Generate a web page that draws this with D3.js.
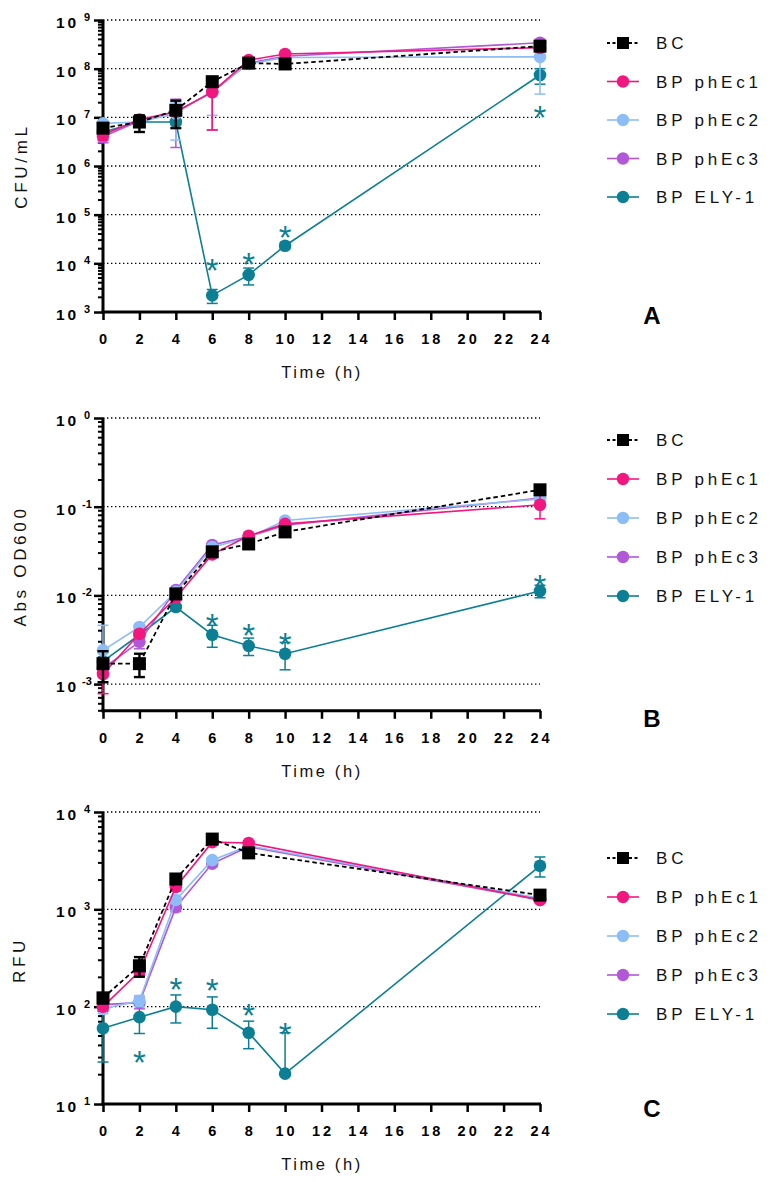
<!DOCTYPE html>
<html><head><meta charset="utf-8">
<script src="https://cdn.jsdelivr.net/npm/d3@7"></script>
<style>
body{margin:0;background:#fff}
svg{display:block}
text{font-family:Arial,"Liberation Sans",sans-serif}
</style>
</head><body>
<svg id="chart" width="773" height="1182"></svg>
<script>
// ---------- shared ----------
const times = [0, 2, 4, 6, 8, 10, 24];
const xTickValues = [0, 2, 4, 6, 8, 10, 12, 14, 16, 18, 20, 22, 24];
const seriesNames = ["BC", "BP phEc1", "BP phEc2", "BP phEc3", "BP ELY-1"];
const seriesColors = ["#000000", "#F2167F", "#8DBDF7", "#B257D8", "#0C7F95"];

// ---------- Panel A : CFU/mL ----------
const cfuBC     = [6.0e6, 8.0e6, 1.4e7, 5.4e7, 1.3e8, 1.25e8, 2.9e8];
const cfuPhEc1  = [4.4e6, 9.0e6, 1.3e7, 3.3e7, 1.5e8, 2.0e8, 2.7e8];
const cfuPhEc2  = [7.5e6, 8.0e6, 1.2e7, 3.5e7, 1.25e8, 1.7e8, 1.75e8];
const cfuPhEc3  = [4.0e6, 8.5e6, 1.3e7, 3.3e7, 1.3e8, 1.8e8, 3.4e8];
const cfuELY1   = [5.0e6, 8.0e6, 8.0e6, 2.2e3, 5.8e3, 2.3e4, 7.4e7];
const cfuBCsd    = [1.0e6, 3.0e6, 8.0e6, 5.0e6, 1.0e7, 1.0e7, 5.0e7];
const cfuPhEc1sd = [1.0e6, 1.0e6, 2.0e6, 2.75e7, 1.0e7, 1.0e7, 3.0e7];
const cfuPhEc2sd = [1.0e6, 1.0e6, 8.6e6, 2.4e7, 1.0e7, 1.0e7, 1.45e8];
const cfuPhEc3sd = [1.0e6, 1.0e6, 1.06e7, 2.75e7, 1.0e7, 1.0e7, 3.0e7];
const cfuELY1sd  = [5.0e5, 5.0e5, 1.0e6, 7.0e2, 2.2e3, 3.0e3, 2.6e7];
const starTimesA = [6, 8, 10, 24];
const starValsA  = [1.0e4, 1.35e4, 4.8e4, 1.4e7];

// ---------- Panel B : Abs OD600 ----------
const odBC     = [1.7e-3, 1.7e-3, 1.04e-2, 3.1e-2, 3.8e-2, 5.2e-2, 1.55e-1];
const odPhEc1  = [1.3e-3, 3.7e-3, 9.4e-3, 2.9e-2, 4.7e-2, 6.4e-2, 1.05e-1];
const odPhEc2  = [2.4e-3, 4.4e-3, 1.1e-2, 3.5e-2, 4.5e-2, 7.0e-2, 1.22e-1];
const odPhEc3  = [1.5e-3, 3.0e-3, 1.15e-2, 3.7e-2, 4.6e-2, 6.2e-2, 1.25e-1];
const odELY1   = [1.8e-3, 3.6e-3, 7.4e-3, 3.6e-3, 2.7e-3, 2.2e-3, 1.12e-2];
const odBCsd    = [6.5e-4, 5.0e-4, 5.0e-4, 1.0e-3, 1.0e-3, 2.0e-3, 5.0e-3];
const odPhEc1sd = [5.2e-4, 3.0e-4, 5.0e-4, 1.0e-3, 1.0e-3, 2.0e-3, 3.2e-2];
const odPhEc2sd = [2.2e-3, 2.0e-4, 5.0e-4, 1.0e-3, 1.0e-3, 2.0e-3, 5.0e-3];
const odPhEc3sd = [3.0e-4, 5.0e-4, 5.0e-4, 1.0e-3, 1.0e-3, 2.0e-3, 5.0e-3];
const odELY1sd  = [2.0e-4, 2.0e-4, 3.0e-4, 1.0e-3, 6.0e-4, 7.5e-4, 1.8e-3];
const starTimesB = [6, 8, 10, 24];
const starValsB  = [5.56e-3, 4.3e-3, 3.4e-3, 1.53e-2];

// ---------- Panel C : RFU ----------
const rfuBC     = [123, 263, 2050, 5270, 3800, null, 1400];
const rfuPhEc1  = [100, 230, 1700, 4900, 4800, null, 1250];
const rfuPhEc2  = [95, 115, 1250, 3200, 4500, null, 1300];
const rfuPhEc3  = [105, 110, 1050, 2950, 4400, null, 1250];
const rfuELY1   = [60, 78, 100, 93, 54, 20.5, 2800];
const rfuBCsd    = [15, 60, 200, 300, 200, null, 100];
const rfuPhEc1sd = [10, 20, 150, 300, 200, null, 80];
const rfuPhEc2sd = [10, 15, 100, 200, 200, null, 80];
const rfuPhEc3sd = [10, 15, 100, 200, 200, null, 80];
const rfuELY1sd  = [33, 25, 32, 33, 17, 33.5, 650];
const starTimesC = [2, 4, 6, 8, 10];
const starValsC  = [31.8, 179, 176, 96.8, 61.7];

// ---------- layout ----------
const panels = [
  { yTitle: "CFU/mL", letter: "A", domain: [1e3, 1e9], top: 20, bottom: 312,
    means: [cfuBC, cfuPhEc1, cfuPhEc2, cfuPhEc3, cfuELY1],
    sds: [cfuBCsd, cfuPhEc1sd, cfuPhEc2sd, cfuPhEc3sd, cfuELY1sd],
    starT: starTimesA, starV: starValsA,
    legendTop: 43, legendGap: 38.5, yTitleX: 27, yTitleY: 166, letterY: 324 },
  { yTitle: "Abs OD600", letter: "B", domain: [5e-4, 1], top: 418, bottom: 710.8,
    means: [odBC, odPhEc1, odPhEc2, odPhEc3, odELY1],
    sds: [odBCsd, odPhEc1sd, odPhEc2sd, odPhEc3sd, odELY1sd],
    starT: starTimesB, starV: starValsB,
    legendTop: 440, legendGap: 39, yTitleX: 26, yTitleY: 566, letterY: 727 },
  { yTitle: "RFU", letter: "C", domain: [10, 1e4], top: 812, bottom: 1104,
    means: [rfuBC, rfuPhEc1, rfuPhEc2, rfuPhEc3, rfuELY1],
    sds: [rfuBCsd, rfuPhEc1sd, rfuPhEc2sd, rfuPhEc3sd, rfuELY1sd],
    starT: starTimesC, starV: starValsC,
    legendTop: 858, legendGap: 39, yTitleX: 25, yTitleY: 960, letterY: 1117 }
];

const svg = d3.select("#chart");
const x = d3.scaleLinear().domain([0, 24]).range([103, 540]);
const drawOrder = [4, 3, 2, 1, 0];

panels.forEach(p => {
  const g = svg.append("g");
  const y = d3.scaleLog().domain(p.domain).range([p.bottom, p.top]);
  const k0 = Math.ceil(Math.log10(p.domain[0]) - 1e-9);
  const k1 = Math.floor(Math.log10(p.domain[1]) + 1e-9);
  const decades = d3.range(k0, k1 + 1).map(k => Math.pow(10, k));

  // dotted gridlines
  g.append("g").selectAll("line").data(decades).join("line")
    .attr("x1", x(0)).attr("x2", x(24))
    .attr("y1", d => y(d)).attr("y2", d => y(d))
    .attr("stroke", "#000").attr("stroke-width", 1.3)
    .attr("stroke-dasharray", "1.4,2.6");

  // minor ticks
  const minors = [];
  for (let k = Math.floor(Math.log10(p.domain[0])); k <= k1; k++) {
    for (let m = 2; m <= 9; m++) {
      const v = m * Math.pow(10, k);
      if (v >= p.domain[0] * 0.999 && v <= p.domain[1]) minors.push(v);
    }
  }
  g.append("g").selectAll("line").data(minors).join("line")
    .attr("x1", x(0) - 5).attr("x2", x(0))
    .attr("y1", d => y(d)).attr("y2", d => y(d))
    .attr("stroke", "#000").attr("stroke-width", 2);

  // y axis (major ticks)
  const yAxis = d3.axisLeft(y).tickValues(decades).tickSize(9).tickFormat("");
  const ya = g.append("g").attr("transform", `translate(${x(0)},0)`).call(yAxis);
  ya.select(".domain").attr("stroke-width", 3).attr("d", `M0,${p.bottom + 1.5}V${p.top}`);
  ya.selectAll(".tick line").attr("stroke-width", 2.5);

  // y tick labels: 10 with superscript exponent
  const yl = g.append("g");
  decades.forEach(d => {
    const e = Math.round(Math.log10(d));
    yl.append("text").attr("x", 56).attr("y", y(d) + 8)
      .attr("font-size", 15.5).attr("font-weight", "bold").attr("letter-spacing", 3)
      .text("10");
    yl.append("text").attr("x", 87).attr("y", y(d) + 1)
      .attr("text-anchor", "middle")
      .attr("font-size", 11).attr("font-weight", "bold")
      .text(String(e));
  });

  // x axis
  const xAxis = d3.axisBottom(x).tickValues(xTickValues).tickSize(8).tickFormat("");
  const xa = g.append("g").attr("transform", `translate(0,${p.bottom})`).call(xAxis);
  xa.select(".domain").attr("stroke-width", 3).attr("d", `M${x(0) - 1.5},0H${x(24) + 1}`);
  xa.selectAll(".tick line").attr("stroke-width", 2.5);
  g.append("g").selectAll("text").data(xTickValues).join("text")
    .attr("x", d => x(d) + 1.5).attr("y", p.bottom + 32)
    .attr("text-anchor", "middle").attr("font-size", 14.5).attr("font-weight", "bold")
    .attr("letter-spacing", 3)
    .text(d => d);

  // axis titles
  g.append("text").attr("x", 322).attr("y", p.bottom + 66)
    .attr("text-anchor", "middle").attr("font-size", 16.5).attr("letter-spacing", 2.6)
    .attr("fill", "#111")
    .text("Time (h)");
  g.append("text").attr("transform", `translate(${p.yTitleX},${p.yTitleY}) rotate(-90)`)
    .attr("text-anchor", "middle").attr("font-size", 17).attr("letter-spacing", 3.7)
    .attr("fill", "#111")
    .text(p.yTitle);

  // series
  drawOrder.forEach(si => {
    const color = seriesColors[si];
    const isBC = si === 0;
    const pts = times.map((t, i) => ({ t, v: p.means[si][i], sd: p.sds[si][i] }))
      .filter(d => d.v != null);
    const sg = g.append("g");
    const line = d3.line().x(d => x(d.t)).y(d => y(d.v));
    sg.append("path").datum(pts).attr("d", line)
      .attr("fill", "none").attr("stroke", color)
      .attr("stroke-width", isBC ? 1.8 : 1.6)
      .attr("stroke-dasharray", isBC ? "4.5,3" : null);
    // error bars (lower bar omitted when it falls below the axis)
    pts.forEach(d => {
      if (d.sd == null) return;
      const hi = d.v + d.sd, lo = d.v - d.sd;
      const showLo = lo >= p.domain[0];
      const yHi = y(Math.min(hi, p.domain[1]));
      const yLo = showLo ? y(lo) : y(d.v);
      const sw = isBC ? 2.4 : 1.5;
      sg.append("line").attr("x1", x(d.t)).attr("x2", x(d.t))
        .attr("y1", yHi).attr("y2", yLo).attr("stroke", color).attr("stroke-width", sw);
      const caps = [yHi];
      if (showLo) caps.push(yLo);
      caps.forEach(cy => sg.append("line")
        .attr("x1", x(d.t) - 5.5).attr("x2", x(d.t) + 5.5)
        .attr("y1", cy).attr("y2", cy).attr("stroke", color).attr("stroke-width", sw));
    });
    // markers
    if (isBC) {
      sg.selectAll("rect").data(pts).join("rect")
        .attr("x", d => x(d.t) - 6.5).attr("y", d => y(d.v) - 6.5)
        .attr("width", 13).attr("height", 13).attr("fill", color);
    } else {
      sg.selectAll("circle").data(pts).join("circle")
        .attr("cx", d => x(d.t)).attr("cy", d => y(d.v)).attr("r", 6.3)
        .attr("fill", color);
    }
  });

  // significance asterisks
  g.append("g").selectAll("text").data(p.starT.map((t, i) => ({ t, v: p.starV[i] })))
    .join("text")
    .attr("x", d => x(d.t)).attr("y", d => y(d.v) + 19)
    .attr("text-anchor", "middle").attr("font-size", 33)
    .attr("fill", seriesColors[4]).text("*");

  // legend
  const lg = g.append("g");
  seriesNames.forEach((name, i) => {
    const ly = p.legendTop + i * p.legendGap;
    const isBC = i === 0;
    lg.append("line").attr("x1", 607).attr("x2", 639).attr("y1", ly).attr("y2", ly)
      .attr("stroke", seriesColors[i]).attr("stroke-width", isBC ? 1.8 : 1.6)
      .attr("stroke-dasharray", isBC ? "3,2.5" : null);
    if (isBC) {
      lg.append("rect").attr("x", 617).attr("y", ly - 6).attr("width", 12).attr("height", 12)
        .attr("fill", seriesColors[i]);
    } else {
      lg.append("circle").attr("cx", 623).attr("cy", ly).attr("r", 6.2).attr("fill", seriesColors[i]);
    }
    lg.append("text").attr("x", 656).attr("y", ly + 6.2)
      .attr("font-size", 17).attr("letter-spacing", 3.8).attr("fill", "#111")
      .text(name);
  });

  // panel letter
  g.append("text").attr("x", 652).attr("y", p.letterY)
    .attr("text-anchor", "middle").attr("font-size", 24).attr("font-weight", "bold")
    .text(p.letter);
});
</script>
</body></html>
